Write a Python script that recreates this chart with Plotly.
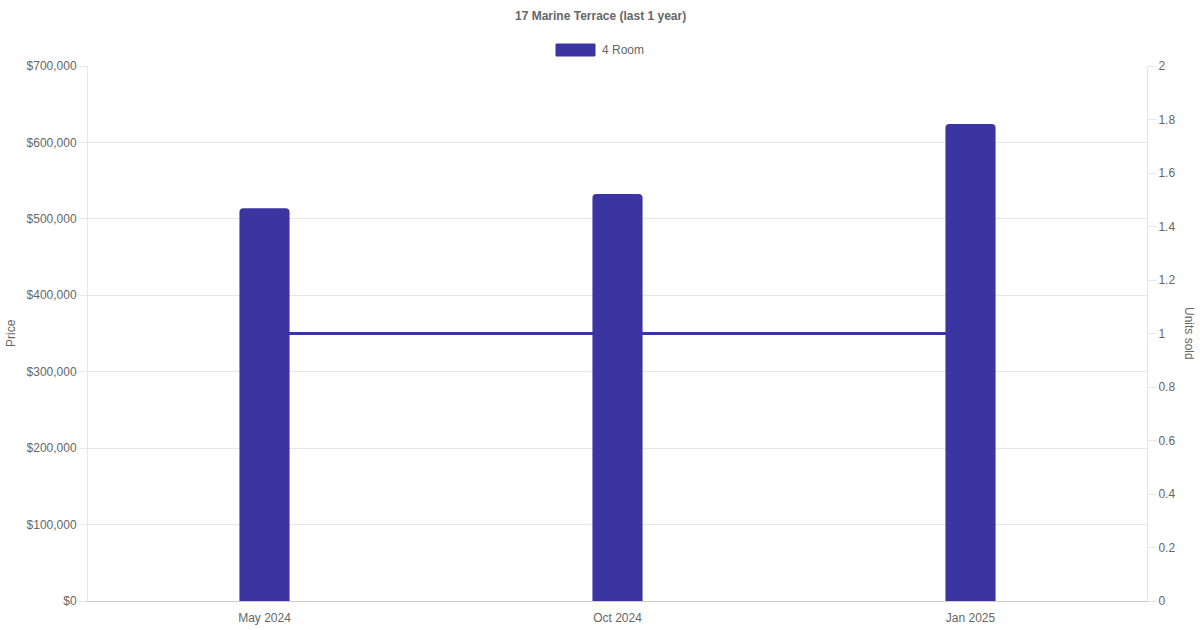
import plotly.graph_objects as go

months = ["May 2024", "Oct 2024", "Jan 2025"]
prices = [514000, 532500, 624000]
units = [1, 1, 1]
series_name = "4 Room"
price_ticks = [0, 100000, 200000, 300000, 400000, 500000, 600000, 700000]
price_tick_labels = ["$0", "$100,000", "$200,000", "$300,000", "$400,000", "$500,000", "$600,000", "$700,000"]
unit_ticks = [0, 0.2, 0.4, 0.6, 0.8, 1, 1.2, 1.4, 1.6, 1.8, 2]
unit_tick_labels = ["0", "0.2", "0.4", "0.6", "0.8", "1", "1.2", "1.4", "1.6", "1.8", "2"]

COLOR = "#3a35a0"
GRID = "#e6e6e6"
TXT = "#666666"
FONT = "Liberation Sans, Arial, sans-serif"

L, R, T, B = 88, 1147, 66, 601
PW, PH = R - L, B - T


def px(x):
    return (x - L) / PW


def py(y):
    return (B - y) / PH


fig = go.Figure()
# line (units) on main axis so it is drawn under the bars
fig.add_trace(go.Scatter(x=months, y=units, mode="lines", yaxis="y",
                         line=dict(color=COLOR, width=3), showlegend=False,
                         hoverinfo="skip"))
fig.add_trace(go.Bar(x=months, y=prices, yaxis="y2", name=series_name,
                     marker=dict(color=COLOR, line=dict(width=0)),
                     width=0.142, showlegend=False))

fig.update_layout(
    width=1200, height=630,
    margin=dict(l=L, r=1200 - R, t=T, b=630 - B, autoexpand=False),
    paper_bgcolor="white", plot_bgcolor="white",
    font=dict(family=FONT, size=12, color=TXT),
    barcornerradius=4,
    xaxis=dict(type="category", range=[-0.5, 2.5], showgrid=False, color=TXT,
               showline=True, linecolor="#cccccc", linewidth=1,
               ticks="outside", ticklen=6, tickcolor="rgba(0,0,0,0)",
               tickfont=dict(size=12, color=TXT), zeroline=False,
               automargin=False),
    yaxis=dict(side="right", range=[0, 2], tickvals=unit_ticks, color=TXT,
               ticktext=unit_tick_labels, showgrid=False, zeroline=False,
               showline=True, linecolor=GRID, linewidth=1,
               ticks="outside", ticklen=8, tickcolor=GRID,
               tickfont=dict(size=12, color=TXT), automargin=False),
    yaxis2=dict(side="left", overlaying="y", range=[0, 700000], color=TXT,
                tickvals=price_ticks, ticktext=price_tick_labels,
                showgrid=True, gridcolor=GRID, gridwidth=1, zeroline=False,
                showline=True, linecolor=GRID, linewidth=1,
                ticks="outside", ticklen=8, tickcolor=GRID,
                tickfont=dict(size=12, color=TXT), automargin=False),
    showlegend=False,
)

fig.add_annotation(text="<b>17 Marine Terrace (last 1 year)</b>", xref="paper", yref="paper",
                   x=px(600), y=py(16), xanchor="center", yanchor="middle", showarrow=False,
                   font=dict(size=12, color=TXT, family=FONT))
# legend
fig.add_shape(type="rect", xref="paper", yref="paper",
              x0=px(556), x1=px(595), y0=py(56), y1=py(44),
              fillcolor=COLOR, line=dict(color=COLOR, width=1))
fig.add_annotation(text=series_name, xref="paper", yref="paper",
                   x=px(600), y=py(50), xanchor="left", yanchor="middle",
                   showarrow=False, font=dict(size=12, color=TXT, family=FONT))
fig.add_annotation(text="Price", xref="paper", yref="paper", textangle=-90,
                   x=px(11), y=py(333), xanchor="center", yanchor="middle",
                   showarrow=False, font=dict(size=12, color=TXT, family=FONT))
fig.add_annotation(text="Units sold", xref="paper", yref="paper", textangle=90,
                   x=px(1189), y=py(333), xanchor="center", yanchor="middle",
                   showarrow=False, font=dict(size=12, color=TXT, family=FONT))

fig.write_html("out.html", config={"displayModeBar": False},
               post_script="document.body.style.margin='0px';document.body.style.overflow='hidden';")
